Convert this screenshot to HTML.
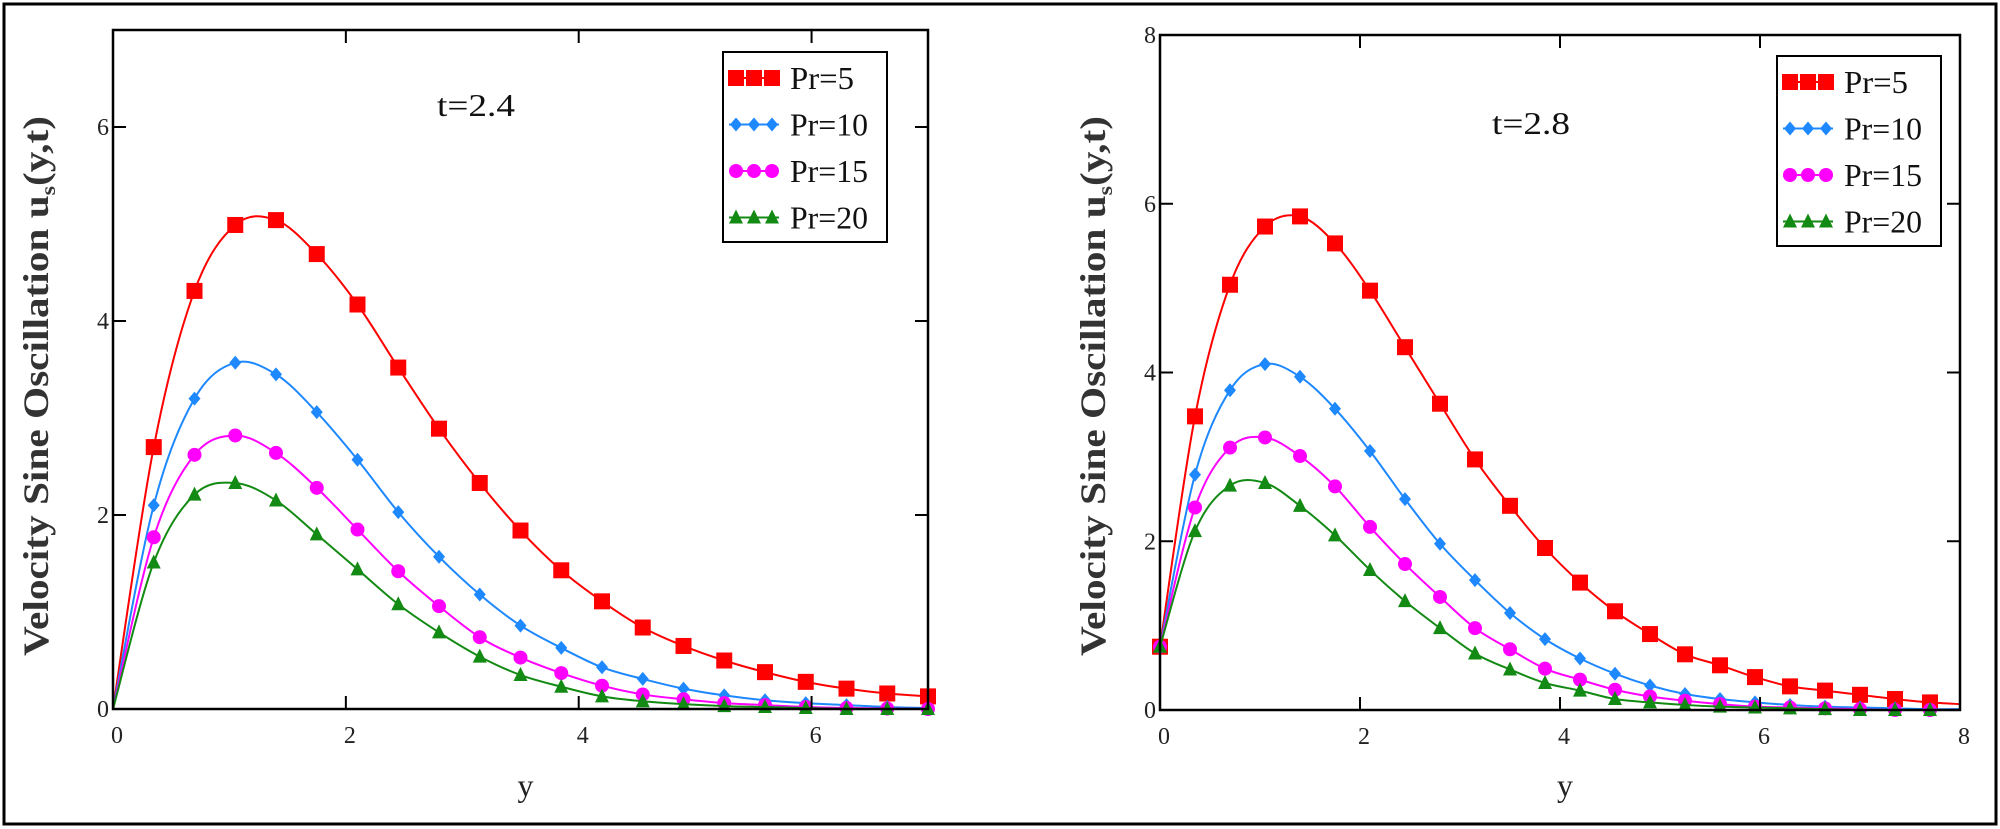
<!DOCTYPE html>
<html><head><meta charset="utf-8"><style>
html,body{margin:0;padding:0;background:#fff;}
svg{display:block;font-family:"Liberation Serif",serif;}
svg text{font-family:"Liberation Serif","DejaVu Serif",serif;}
</style></head><body>
<svg id="fig" width="2000" height="829" viewBox="0 0 2000 829" xmlns="http://www.w3.org/2000/svg">
<rect x="4" y="4" width="1992" height="820" fill="#fff" stroke="#000" stroke-width="3"/>
</svg>
<script>
const NS="http://www.w3.org/2000/svg";
const svg=document.getElementById('fig');
// ---- data ----
const seriesNames=["Pr=5","Pr=10","Pr=15","Pr=20"];
const seriesColors=["#ff0000","#1e88ff","#ff00ff","#138a13"];
const xStep=0.35;
const leftXTicks=[0,2,4,6];
const leftYTicks=[0,2,4,6];
const rightXTicks=[0,2,4,6,8];
const rightYTicks=[0,2,4,6,8];
const leftPr5=[0,2.70,4.31,4.99,5.04,4.69,4.17,3.52,2.89,2.33,1.84,1.43,1.11,0.84,0.65,0.50,0.38,0.28,0.21,0.16,0.13];
const leftPr10=[0,2.10,3.20,3.57,3.45,3.06,2.57,2.03,1.57,1.18,0.86,0.63,0.43,0.31,0.21,0.14,0.09,0.06,0.04,0.02,0.01];
const leftPr15=[0,1.77,2.62,2.82,2.64,2.28,1.85,1.42,1.06,0.74,0.53,0.37,0.24,0.15,0.10,0.06,0.04,0.02,0.01,0.005,0];
const leftPr20=[0,1.51,2.21,2.33,2.15,1.80,1.44,1.08,0.79,0.54,0.35,0.23,0.13,0.08,0.05,0.03,0.02,0.01,0,0,0];
const rightPr5=[0.75,3.48,5.04,5.73,5.85,5.53,4.97,4.30,3.63,2.97,2.42,1.92,1.51,1.17,0.90,0.66,0.53,0.39,0.28,0.23,0.18,0.13,0.09];
const rightPr10=[0.75,2.79,3.79,4.10,3.95,3.57,3.07,2.50,1.97,1.54,1.15,0.84,0.61,0.43,0.29,0.19,0.13,0.09,0.06,0.04,0.03,0.02,0.01];
const rightPr15=[0.75,2.40,3.11,3.23,3.01,2.65,2.17,1.73,1.34,0.97,0.72,0.49,0.36,0.24,0.16,0.11,0.07,0.04,0.03,0.02,0.01,0,0];
const rightPr20=[0.75,2.12,2.66,2.69,2.42,2.07,1.66,1.29,0.97,0.67,0.48,0.32,0.23,0.13,0.09,0.06,0.04,0.03,0.02,0.01,0,0,0];

function mk(tag,attrs,parent){const e=document.createElementNS(NS,tag);for(const k in attrs)e.setAttribute(k,attrs[k]);(parent||svg).appendChild(e);return e;}

function marker(g,kind,cx,cy,color){
  let e;
  if(kind===0){e=mk('rect',{x:cx-8,y:cy-8,width:16,height:16,fill:color},g);}
  else if(kind===1){e=mk('polygon',{points:`${cx},${cy-7} ${cx+6},${cy} ${cx},${cy+7} ${cx-6},${cy}`,fill:color},g);}
  else if(kind===2){e=mk('circle',{cx:cx,cy:cy,r:7,fill:color},g);}
  else {e=mk('polygon',{points:`${cx},${cy-8} ${cx+7},${cy+6} ${cx-7},${cy+6}`,fill:color},g);}
  return e;
}

function smoothPath(pts){
  let d=`M${pts[0][0]},${pts[0][1]}`;
  for(let i=0;i<pts.length-1;i++){
    const p0=pts[Math.max(0,i-1)],p1=pts[i],p2=pts[i+1],p3=pts[Math.min(pts.length-1,i+2)];
    const c1x=p1[0]+(p2[0]-p0[0])/6,c1y=p1[1]+(p2[1]-p0[1])/6;
    const c2x=p2[0]-(p3[0]-p1[0])/6,c2y=p2[1]-(p3[1]-p1[1])/6;
    d+=` C${c1x},${c1y} ${c2x},${c2y} ${p2[0]},${p2[1]}`;
  }
  return d;
}

function panel(o){
  const g=mk('g',{});
  
  
  const X=v=>o.x0+(v-o.xmin)/(o.xmax-o.xmin)*(o.x1-o.x0);
  const Y=v=>o.y0-(v)/(o.ymax)*(o.y0-o.y1);
  o.series.forEach((vals,si)=>{
    const sg=mk('g',{},g);
    
    
    const pts=vals.map((v,i)=>[X(i*xStep),Y(v)]);
    if(o.extend!==undefined){pts.push([X(o.xmax),Y(o.extend[si])]);}
    const p=mk('path',{d:smoothPath(pts),fill:'none',stroke:seriesColors[si],'stroke-width':2},sg);
    
    
    vals.forEach((v,i)=>{
      if(i===0&&!o.markerAtZero)return;
      const m=marker(sg,si,X(i*xStep),Y(v),seriesColors[si]);
      
      
    });
  });
  const box=mk('rect',{x:o.x0,y:o.y1,width:o.x1-o.x0,height:o.y0-o.y1,fill:'none',stroke:'#000','stroke-width':2.5},g);
  
  
  o.xticks.forEach(t=>{
    const x=X(t);
    if(t!==o.xmin&&t!==o.xmax){
      mk('line',{x1:x,y1:o.y0,x2:x,y2:o.y0-13,stroke:'#000','stroke-width':2},g);
      mk('line',{x1:x,y1:o.y1,x2:x,y2:o.y1+13,stroke:'#000','stroke-width':2},g);
    }
    const tx=mk('text',{x:x+4,y:o.y0+34,'font-size':24,'text-anchor':'middle',fill:'#222'},g);
    tx.textContent=t;
    
    
  });
  o.yticks.forEach(t=>{
    const y=Y(t);
    if(t!==0&&t!==o.ymax){
      mk('line',{x1:o.x0,y1:y,x2:o.x0+13,y2:y,stroke:'#000','stroke-width':2},g);
      mk('line',{x1:o.x1,y1:y,x2:o.x1-13,y2:y,stroke:'#000','stroke-width':2},g);
    }
    const ty=mk('text',{x:o.x0-4,y:y+8,'font-size':24,'text-anchor':'end',fill:'#222'},g);
    ty.textContent=t;
    
    
  });
  const xl=mk('text',{x:(o.x0+o.x1)/2+5,y:796,'font-size':32,'text-anchor':'middle',fill:'#222'},g);
  xl.textContent='y';
  
  
  const yl=mk('text',{x:0,y:0,'font-size':36,'font-weight':'bold','text-anchor':'middle',fill:'#333',textLength:540,lengthAdjust:'spacingAndGlyphs',transform:`translate(${o.ylabX},386) rotate(-90)`},g);
  yl.innerHTML='Velocity Sine Oscillation u<tspan font-size="21" dy="7">s</tspan><tspan dy="-7">(y,t)</tspan>';
  
  
  const tt=mk('text',{x:o.tX,y:o.tY,'font-size':32,'text-anchor':'middle',fill:'#111',textLength:78,lengthAdjust:'spacingAndGlyphs'},g);
  tt.textContent=o.title;
  
  
  const lg=mk('g',{},g);
  
  
  mk('rect',{x:o.lx,y:o.ly,width:164,height:190,fill:'#fff',stroke:'#000','stroke-width':2},lg);
  seriesNames.forEach((n,si)=>{
    const cy=o.ly+26+si*46.5;
    const eg=mk('g',{},lg);
    
    
    mk('line',{x1:o.lx+6,y1:cy,x2:o.lx+56,y2:cy,stroke:seriesColors[si],'stroke-width':2},eg);
    [o.lx+13,o.lx+31,o.lx+49].forEach(mx=>marker(eg,si,mx,cy,seriesColors[si]));
    const t=mk('text',{x:o.lx+67,y:cy+11,'font-size':32,fill:'#111',textLength:o.tl[si],lengthAdjust:'spacingAndGlyphs'},eg);
    t.textContent=n;
  });
}

panel({name:'left-chart',x0:113,x1:928,y0:709,y1:30,xmin:0,xmax:7,ymax:7,
  series:[leftPr5,leftPr10,leftPr15,leftPr20],markerAtZero:false,
  xticks:leftXTicks,yticks:leftYTicks,ylabX:48,title:'t=2.4',tX:476,tY:116,lx:723,ly:52,tl:[64,78,78,78]});
panel({name:'right-chart',x0:1160,x1:1960,y0:710,y1:35,xmin:0,xmax:8,ymax:8,
  series:[rightPr5,rightPr10,rightPr15,rightPr20],markerAtZero:true,extend:[0.07,0.01,0,0],
  xticks:rightXTicks,yticks:rightYTicks,ylabX:1105,title:'t=2.8',tX:1531,tY:134,lx:1777,ly:56,tl:[64,78,78,78]});
</script>
</body></html>
